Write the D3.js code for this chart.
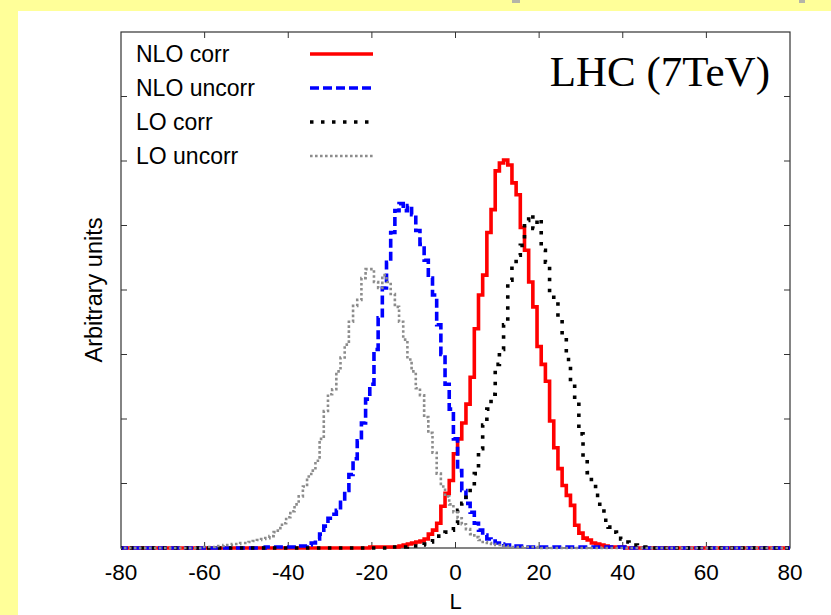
<!DOCTYPE html>
<html>
<head>
<meta charset="utf-8">
<script src="https://cdn.jsdelivr.net/npm/d3@7"></script>
<style>
  html, body { margin: 0; padding: 0; background: #ffff99; }
  svg { display: block; }
</style>
</head>
<body>
<div class="canvas"></div>
<script>
// x range of the histograms (bin width 1, centred on integers)
const lMin = -80, lMax = 80;
const xTicks = [-80, -60, -40, -20, 0, 20, 40, 60, 80];

// histogram heights (arbitrary units), each list starts at the given L
const nloCorrStart = -20;
const nloCorr = [1, 1, 1, 1, 1, 1, 1, 2, 3, 4, 5, 6, 7, 9, 14, 18, 25, 42, 55, 68,
  95, 110, 126, 145, 172, 221, 255, 275, 318, 341, 380, 388, 391, 386, 368, 356, 323, 300, 268, 243,
  203, 185, 168, 128, 101, 80, 63, 53, 43, 23, 15, 10, 8, 5, 4, 3, 2, 1, 1, 1, 1];

const nloUncorrStart = -45;
const nloUncorr = [1, 1, 1, 1, 1, 1, 1, 1, 2, 2, 3, 5, 9, 14, 22, 30, 34, 38, 46, 58,
  74, 90, 108, 126, 150, 165, 200, 232, 262, 288, 318, 340, 347, 340, 345, 336, 320, 306, 290, 272,
  255, 225, 195, 165, 140, 110, 78, 58, 45, 36, 25, 18, 13, 9, 7, 5, 4, 3, 3, 2,
  2, 2, 1, 1, 1, 1, 1, 1, 1, 1, 1, 1, 1, 1, 1, 1, 1, 1, 1, 1, 1, 1, 1, 1, 1, 1];

const loCorrStart = -15;
const loCorr = [1, 1, 1, 1, 2, 2, 2, 3, 4, 6, 9, 12, 14, 16, 18, 25, 38, 45, 53, 62,
  75, 100, 124, 140, 155, 185, 200, 225, 270, 285, 295, 305, 330, 336, 322, 332, 300, 288, 255, 250,
  233, 212, 190, 165, 148, 115, 90, 76, 65, 53, 42, 28, 21, 16, 12, 9, 6, 4, 3, 2, 1];

const loUncorrStart = -60;
const loUncorr = [1, 1, 1, 2, 2, 3, 3, 4, 4, 5, 5, 6, 7, 8, 9, 10, 12, 16, 20, 25,
  31, 37, 44, 52, 62, 72, 78, 88, 110, 138, 155, 160, 178, 192, 205, 228, 244, 250, 272, 281,
  281, 268, 262, 275, 268, 256, 243, 228, 210, 190, 178, 161, 154, 132, 116, 96, 75, 62, 52, 44,
  36, 30, 24, 19, 14, 11, 8, 6, 5, 4, 3, 3, 2, 1, 1, 1, 1, 1, 1, 1, 1];

const yMax = 520, yStep = 65;

const seriesNames = ['NLO corr', 'NLO uncorr', 'LO corr', 'LO uncorr'];

const styles = [
  { color: '#ff0000', width: 3.6, dash: null },
  { color: '#0000ff', width: 3.6, dash: '9,4' },
  { color: '#000000', width: 3.6, dash: '3.5,7.5' },
  { color: '#8c8c8c', width: 2.6, dash: '2.6,2.4' }
];

const W = 831, H = 615;
const m = { left: 121, right: 790, top: 32, bottom: 548 };

const svg = d3.select('.canvas').append('svg')
  .attr('width', W).attr('height', H);

// slide background
svg.append('rect').attr('x', 0).attr('y', 0).attr('width', W).attr('height', H).attr('fill', '#ffff99');
svg.append('rect').attr('x', 18).attr('y', 11).attr('width', W - 18).attr('height', H - 11).attr('fill', '#ffffff');
svg.append('rect').attr('x', 512).attr('y', 0).attr('width', 8).attr('height', 3).attr('fill', '#b4b4a8');
svg.append('rect').attr('x', 799).attr('y', 0).attr('width', 6).attr('height', 3).attr('fill', '#b4b4a8');

const x = d3.scaleLinear().domain([lMin, lMax]).range([m.left, m.right]);
const y = d3.scaleLinear().domain([0, yMax]).range([m.bottom, m.top]);
const yTicks = d3.range(yStep, yMax, yStep);

svg.append('clipPath').attr('id', 'plot')
  .append('rect').attr('x', m.left).attr('y', m.top - 5)
  .attr('width', m.right - m.left).attr('height', m.bottom - m.top + 10);

// frame
svg.append('rect')
  .attr('x', m.left).attr('y', m.top)
  .attr('width', m.right - m.left).attr('height', m.bottom - m.top)
  .attr('fill', 'none').attr('stroke', '#333').attr('stroke-width', 1.2);

// inward ticks on all four sides
const tickLen = 6;
const innerX = xTicks.slice(1, -1);
svg.append('g').selectAll('line.xb').data(innerX).join('line')
  .attr('x1', d => x(d)).attr('x2', d => x(d))
  .attr('y1', m.bottom).attr('y2', m.bottom - tickLen)
  .attr('stroke', '#333').attr('stroke-width', 1);
svg.append('g').selectAll('line.xt').data(innerX).join('line')
  .attr('x1', d => x(d)).attr('x2', d => x(d))
  .attr('y1', m.top).attr('y2', m.top + tickLen)
  .attr('stroke', '#333').attr('stroke-width', 1);
svg.append('g').selectAll('line.yl').data(yTicks).join('line')
  .attr('x1', m.left).attr('x2', m.left + tickLen)
  .attr('y1', d => y(d)).attr('y2', d => y(d))
  .attr('stroke', '#333').attr('stroke-width', 1);
svg.append('g').selectAll('line.yr').data(yTicks).join('line')
  .attr('x1', m.right).attr('x2', m.right - tickLen)
  .attr('y1', d => y(d)).attr('y2', d => y(d))
  .attr('stroke', '#333').attr('stroke-width', 1);

// tick labels
svg.append('g').selectAll('text').data(xTicks).join('text')
  .attr('x', d => x(d)).attr('y', 580)
  .attr('text-anchor', 'middle')
  .attr('font-family', 'Liberation Sans, Arial, sans-serif')
  .attr('font-size', 22.5)
  .text(d => d);

svg.append('text')
  .attr('x', x(0)).attr('y', 609)
  .attr('text-anchor', 'middle')
  .attr('font-family', 'Liberation Sans, Arial, sans-serif')
  .attr('font-size', 22)
  .text('L');

svg.append('text')
  .attr('transform', 'translate(102, 290) rotate(-90)')
  .attr('text-anchor', 'middle')
  .attr('font-family', 'Liberation Sans, Arial, sans-serif')
  .attr('font-size', 23.5)
  .text('Arbitrary units');

// histograms
function binsFor(start, vals) {
  return d3.range(lMin, lMax + 1).map(l => {
    const i = l - start;
    return { l: l, v: (i >= 0 && i < vals.length) ? vals[i] : 0 };
  });
}

const allSeries = [
  binsFor(nloCorrStart, nloCorr),
  binsFor(nloUncorrStart, nloUncorr),
  binsFor(loCorrStart, loCorr),
  binsFor(loUncorrStart, loUncorr)
];

const step = d3.line()
  .x(d => x(d.e))
  .y(d => y(d.v))
  .curve(d3.curveStepAfter);

const plotG = svg.append('g').attr('clip-path', 'url(#plot)');

allSeries.forEach((bins, k) => {
  const pts = bins.map(b => ({ e: b.l - 0.5, v: b.v }));
  pts.push({ e: lMax + 0.5, v: bins[bins.length - 1].v });
  plotG.append('path')
    .attr('d', step(pts))
    .attr('fill', 'none')
    .attr('stroke', styles[k].color)
    .attr('stroke-width', styles[k].width)
    .attr('stroke-dasharray', styles[k].dash)
    .attr('stroke-linejoin', 'miter');
});

// legend
const legendY = [54, 88, 122, 156];
const leg = svg.append('g');
seriesNames.forEach((name, k) => {
  leg.append('text')
    .attr('x', 136).attr('y', legendY[k] + 8)
    .attr('font-family', 'Liberation Sans, Arial, sans-serif')
    .attr('font-size', 23)
    .text(name);
  leg.append('line')
    .attr('x1', 310).attr('x2', 373)
    .attr('y1', legendY[k]).attr('y2', legendY[k])
    .attr('stroke', styles[k].color)
    .attr('stroke-width', styles[k].width)
    .attr('stroke-dasharray', styles[k].dash);
});

svg.append('text')
  .attr('x', 770).attr('y', 86)
  .attr('text-anchor', 'end')
  .attr('font-family', 'Liberation Serif, Times New Roman, serif')
  .attr('font-size', 43)
  .text('LHC (7TeV)');
</script>
</body>
</html>
